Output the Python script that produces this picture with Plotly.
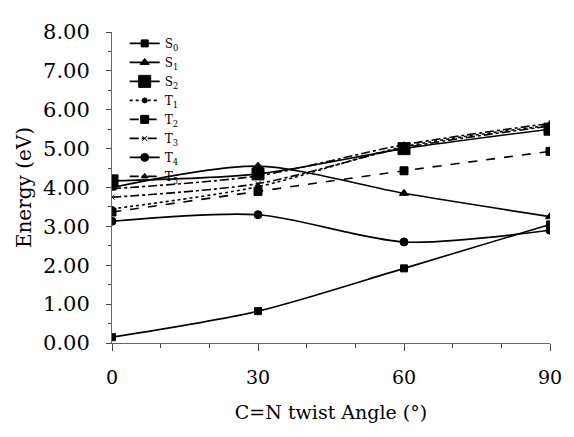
import plotly.graph_objects as go

angles = [0, 30, 60, 90]
series_names = ["S<sub>0</sub>", "S<sub>1</sub>", "S<sub>2</sub>", "T<sub>1</sub>",
                "T<sub>2</sub>", "T<sub>3</sub>", "T<sub>4</sub>", "T<sub>5</sub>"]
S0 = [0.15, 0.82, 1.92, 3.05]
S1 = [4.00, 4.55, 3.85, 3.25]
S2 = [4.17, 4.35, 5.00, 5.50]
T1 = [3.45, 4.02, 5.05, 5.60]
T2 = [3.37, 3.90, 4.43, 4.93]
T3 = [3.75, 4.10, 5.02, 5.58]
T4 = [3.13, 3.30, 2.60, 2.90]
T5 = [3.97, 4.30, 5.10, 5.65]
y_ticks = [0, 1, 2, 3, 4, 5, 6, 7, 8]
x_ticks = [0, 30, 60, 90]

values = [S0, S1, S2, T1, T2, T3, T4, T5]
styles = [
    dict(dash="solid", symbol="square", size=7),
    dict(dash="solid", symbol="triangle-up", size=8),
    dict(dash="solid", symbol="square", size=12),
    dict(dash="dot", symbol="circle", size=5),
    dict(dash="dash", symbol="square", size=8),
    dict(dash="dashdot", symbol="x-thin", size=5),
    dict(dash="solid", symbol="circle", size=8),
    dict(dash="dashdot", symbol="triangle-up", size=6),
]

fig = go.Figure()
for name, vals, st in zip(series_names, values, styles):
    fig.add_trace(go.Scatter(
        x=angles, y=vals, name=name, mode="lines+markers",
        line=dict(color="black", width=1.6, dash=st["dash"], shape="spline", smoothing=0.8),
        marker=dict(color="black", symbol=st["symbol"], size=st["size"],
                    line=dict(color="black", width=1)),
    ))

font_family = "DejaVu Serif"
fig.update_layout(
    width=566, height=429,
    margin=dict(l=104, r=12, t=15, b=94),
    paper_bgcolor="white", plot_bgcolor="white",
    font=dict(family=font_family, color="black", size=20),
    showlegend=True,
    legend=dict(x=0.029, y=1.01, xanchor="left", yanchor="top",
                font=dict(family=font_family, size=12, color="black"),
                bgcolor="rgba(0,0,0,0)", tracegroupgap=0, itemwidth=30,
                maxheight=300),
    xaxis=dict(range=[0, 90], tickvals=x_ticks, ticktext=[str(v) for v in x_ticks],
               showgrid=False, zeroline=False, showline=True, linecolor="#666",
               linewidth=1, ticks="outside", ticklen=7, tickcolor="#444",
               tickfont=dict(family=font_family, size=19, color="black"),
               ticklabeloverflow="allow",
               minor=dict(dtick=10, tick0=0, ticks="outside", ticklen=4, tickcolor="#444"),
               title=dict(text="C=N twist Angle (°)",
                          font=dict(family=font_family, size=19, color="black"),
                          standoff=18),
               ticklabelstandoff=10),
    yaxis=dict(range=[0, 8], tickvals=y_ticks, ticktext=[f"{v:.2f}" for v in y_ticks],
               showgrid=False, zeroline=False, showline=True, linecolor="#666",
               linewidth=1, ticks="outside", ticklen=5, tickcolor="#444",
               tickfont=dict(family=font_family, size=21, color="black"),
               ticklabeloverflow="allow",
               minor=dict(dtick=0.5, tick0=0, ticks="outside", ticklen=3, tickcolor="#444"),
               title=dict(text="Energy (eV)",
                          font=dict(family=font_family, size=20, color="black"),
                          standoff=6),
               ticklabelstandoff=12),
)

fig.write_html("out.html")
